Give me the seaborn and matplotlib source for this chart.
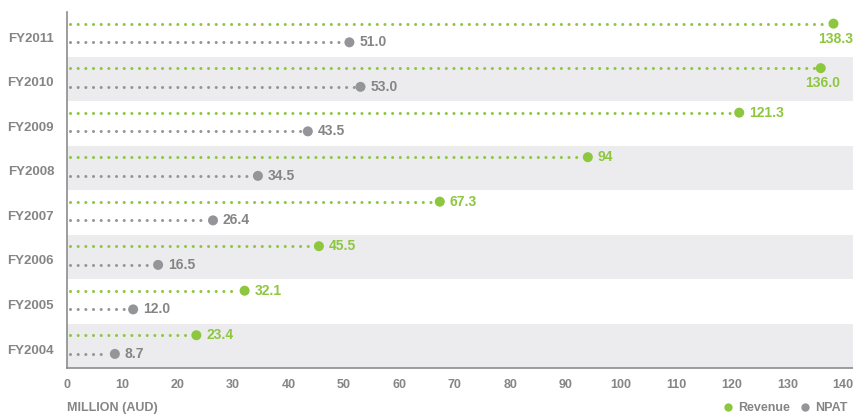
import matplotlib
matplotlib.use("Agg")
import matplotlib.pyplot as plt
import seaborn as sns
import pandas as pd
from matplotlib.lines import Line2D

years = ["FY2004", "FY2005", "FY2006", "FY2007", "FY2008", "FY2009", "FY2010", "FY2011"]
revenue = [23.4, 32.1, 45.5, 67.3, 94, 121.3, 136.0, 138.3]
revenue_labels = ["23.4", "32.1", "45.5", "67.3", "94", "121.3", "136.0", "138.3"]
npat = [8.7, 12.0, 16.5, 26.4, 34.5, 43.5, 53.0, 51.0]
npat_labels = ["8.7", "12.0", "16.5", "26.4", "34.5", "43.5", "53.0", "51.0"]
xticks = list(range(0, 141, 10))

GREEN = "#8dc63f"
GREY = "#939598"
TEXT = "#858585"
BAND = "#ececee"

sns.set_theme(style="white")
plt.rcParams["font.family"] = ["Liberation Sans", "DejaVu Sans"]
plt.rcParams["font.weight"] = "bold"

fig = plt.figure(figsize=(8.54, 4.16), dpi=100)
ax = fig.add_axes([0.078, 0.115, 0.922, 0.856])

REV_OFF = 0.24
NPAT_OFF = -0.18

pos = list(range(len(years)))
df = pd.DataFrame({
    "y_rev": [p + REV_OFF for p in pos],
    "y_npat": [p + NPAT_OFF for p in pos],
    "revenue": revenue,
    "npat": npat,
})

for p in pos:
    if p % 2 == 0:
        ax.axhspan(p - 0.5, p + 0.5, color=BAND, zorder=0, lw=0)

dash = (0, (0.01, 2.5))
for p, r, n in zip(pos, revenue, npat):
    ax.plot([0.6, r - 1.2], [p + REV_OFF] * 2, color=GREEN, lw=2.2,
            linestyle=dash, dash_capstyle="round", zorder=2)
    ax.plot([0.6, n - 1.2], [p + NPAT_OFF] * 2, color=GREY, lw=2.2,
            linestyle=dash, dash_capstyle="round", zorder=2)

sns.scatterplot(data=df, x="revenue", y="y_rev", color=GREEN, s=52,
                edgecolor="none", ax=ax, zorder=3, legend=False)
sns.scatterplot(data=df, x="npat", y="y_npat", color=GREY, s=52,
                edgecolor="none", ax=ax, zorder=3, legend=False)

for p, r, lab in zip(pos, revenue, revenue_labels):
    if r > 130:
        ax.annotate(lab, (r, p + REV_OFF), xytext=(14, -11), textcoords="offset points",
                    ha="right", va="center", color=GREEN, fontsize=10, fontweight="bold")
    else:
        ax.annotate(lab, (r, p + REV_OFF), xytext=(7, 0), textcoords="offset points",
                    ha="left", va="center", color=GREEN, fontsize=10, fontweight="bold")
for p, n, lab in zip(pos, npat, npat_labels):
    ax.annotate(lab, (n, p + NPAT_OFF), xytext=(7, 0), textcoords="offset points",
                ha="left", va="center", color=TEXT, fontsize=10, fontweight="bold")

ax.set_xlim(0, 142)
ax.set_ylim(-0.5, 7.5)
ax.set_xticks(xticks)
ax.set_xticklabels([str(t) for t in xticks], color=TEXT, fontsize=9, fontweight="bold")
ax.set_yticks([p - 0.07 for p in pos])
ax.set_yticklabels(years, color=TEXT, fontsize=9.5, fontweight="bold")
ax.tick_params(axis="both", length=0)
ax.tick_params(axis="x", pad=8)
ax.tick_params(axis="y", pad=9)
ax.set_xlabel("")
ax.set_ylabel("")

for s in ["top", "right"]:
    ax.spines[s].set_visible(False)
for s in ["left", "bottom"]:
    ax.spines[s].set_color("#8c8c8c")
    ax.spines[s].set_linewidth(1.2)

fig.text(0.078, 0.004, "MILLION (AUD)", color=TEXT, fontsize=9, fontweight="bold",
         ha="left", va="bottom")

handles = [
    Line2D([], [], marker="o", color="none", markerfacecolor=GREEN, markeredgecolor="none", markersize=6),
    Line2D([], [], marker="o", color="none", markerfacecolor=GREY, markeredgecolor="none", markersize=6),
]
leg = fig.legend(handles, ["Revenue", "NPAT"], loc="lower right", bbox_to_anchor=(1.005, -0.022),
                 ncol=2, frameon=False, handlelength=0.8, handletextpad=0.4,
                 columnspacing=0.8, fontsize=9)
for t in leg.get_texts():
    t.set_color(TEXT)
    t.set_fontweight("bold")

fig.savefig("out.png", dpi=100)
